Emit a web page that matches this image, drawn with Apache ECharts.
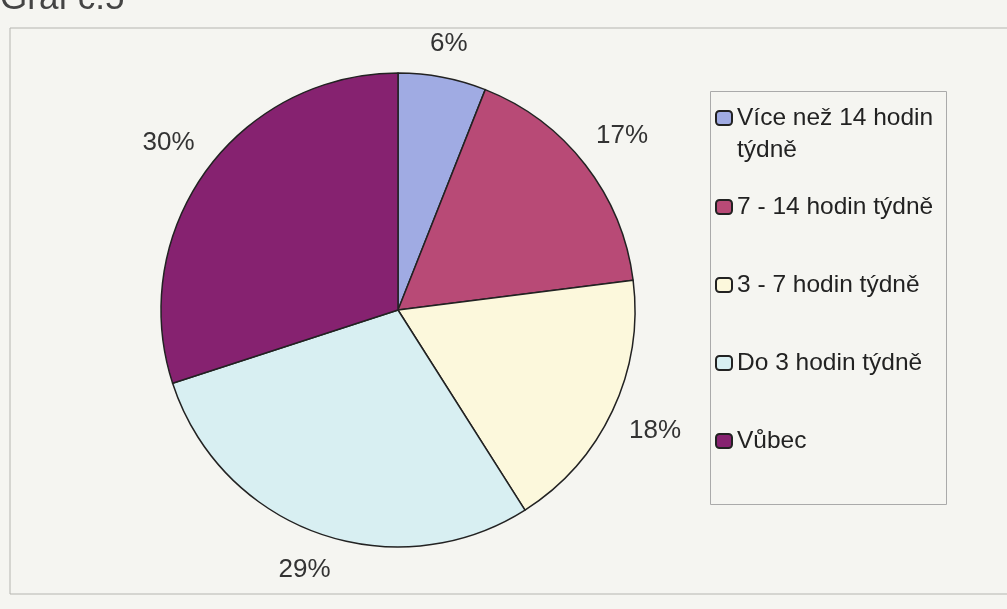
<!DOCTYPE html>
<html>
<head>
<meta charset="utf-8">
<script src="https://cdn.jsdelivr.net/npm/echarts@6/dist/echarts.min.js"></script>
<style>
  html, body { margin: 0; padding: 0; background: #f5f5f1; }
  #graf { width: 1007px; height: 609px; }
</style>
</head>
<body>
<div id="graf"></div>
<script>
var kategorie = ['Více než 14 hodin týdně', '7 - 14 hodin týdně', '3 - 7 hodin týdně', 'Do 3 hodin týdně', 'Vůbec'];
var procenta = [6, 17, 18, 29, 30];
var barvy = ['#a0abe3', '#b84a76', '#fcf8dc', '#d8eff2', '#862270'];

var stred = [398, 310];
var polomer = 237;
var mezera = 18; // odstup popisku od okraje kolace

var celkem = procenta.reduce(function (a, b) { return a + b; }, 0);
var uhly = [];
var kum = 0;
procenta.forEach(function (v) {
    uhly.push((kum + v / 2) / celkem * Math.PI * 2);
    kum += v;
});

var data = kategorie.map(function (k, i) {
    return { name: k, value: procenta[i], itemStyle: { color: barvy[i] } };
});

var legendText = { fontFamily: 'Liberation Sans, Arial', fontSize: 24.5, color: '#222', lineHeight: 32 };

var option = {
    backgroundColor: '#f5f5f1',
    animation: false,
    graphic: [
        { type: 'text', left: 0, top: -18, style: { text: 'Graf č.5', fontFamily: 'Liberation Sans, Arial', fontSize: 35, fill: '#444' } },
        { type: 'rect', shape: { x: 10, y: 28, width: 1010, height: 566 }, style: { fill: 'none', stroke: '#b5b5b0', lineWidth: 1 } },
        { type: 'rect', shape: { x: 710.5, y: 91.5, width: 236, height: 413 }, style: { fill: 'none', stroke: '#aaa', lineWidth: 1 } },
        { type: 'text', x: 737, y: 150, style: { text: 'týdně', fontFamily: 'Liberation Sans, Arial', fontSize: 24.5, fill: '#222', verticalAlign: 'middle' } }
    ],
    legend: [{
        data: [kategorie[0]],
        orient: 'vertical',
        left: 715,
        top: 102,
        padding: 0,
        itemWidth: 16,
        itemHeight: 14,
        formatter: function () { return 'Více než 14 hodin'; },
        textStyle: legendText
    }, {
        data: kategorie.slice(1),
        orient: 'vertical',
        left: 715,
        top: 191,
        padding: 0,
        itemGap: 46,
        itemWidth: 16,
        itemHeight: 14,
        textStyle: legendText
    }],
    series: [{
        type: 'pie',
        center: stred,
        radius: polomer,
        startAngle: 90,
        silent: true,
        itemStyle: { borderColor: '#222', borderWidth: 1.5 },
        label: {
            show: true,
            position: 'outside',
            fontFamily: 'Liberation Sans, Arial',
            fontSize: 26,
            color: '#333',
            formatter: function (p) { return p.value + '%'; }
        },
        labelLine: { show: false },
        labelLayout: function (p) {
            var a = uhly[p.dataIndex];
            var sx = Math.sin(a), cy = -Math.cos(a);
            var w = p.labelRect.width, h = p.labelRect.height;
            var ext = Math.abs(sx) * w / 2 + Math.abs(cy) * h / 2;
            var r = polomer + mezera + ext;
            return {
                x: stred[0] + sx * r,
                y: stred[1] + cy * r,
                align: 'center',
                verticalAlign: 'middle'
            };
        },
        data: data
    }]
};

var graf = echarts.init(document.getElementById('graf'));
graf.setOption(option);
</script>
</body>
</html>
